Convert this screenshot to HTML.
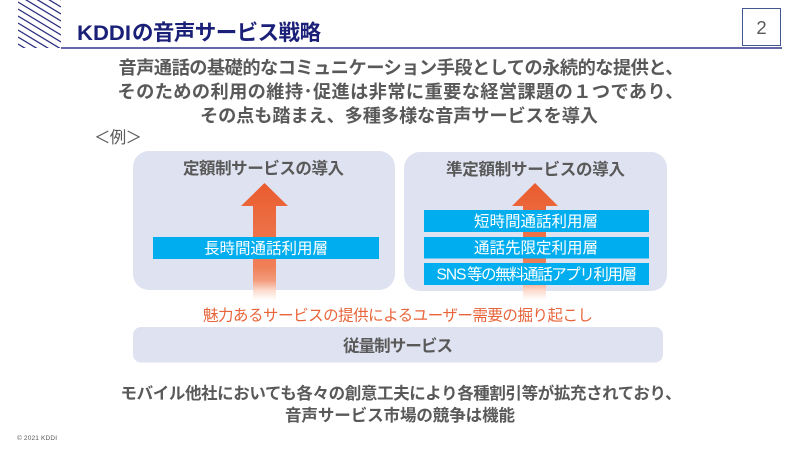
<!DOCTYPE html>
<html lang="ja"><head><meta charset="utf-8">
<style>
html,body{margin:0;padding:0;background:#fff}
svg{display:block;filter:blur(.3px)}
text{font-family:"Liberation Sans","Noto Sans CJK JP",sans-serif}
.b{font-weight:700;fill:#595959}
.w{fill:#fff;font-size:15.5px}
</style></head><body>
<svg width="800" height="450" viewBox="0 0 800 450" xmlns="http://www.w3.org/2000/svg">
<defs>
<clipPath id="h"><rect x="18" y="0" width="43" height="48"/></clipPath>
<linearGradient id="g1" gradientUnits="userSpaceOnUse" x1="0" y1="183" x2="0" y2="300">
<stop offset="0" stop-color="#e95c2f"/><stop offset=".72" stop-color="#f08058"/><stop offset=".83" stop-color="#f39a7a"/><stop offset=".92" stop-color="#fbdccf"/><stop offset="1" stop-color="#fff"/>
</linearGradient>
</defs>
<g clip-path="url(#h)" stroke="#2b3080" stroke-width="1.3">
<path d="M18 -40L61 -14M18 -33L61 -7M18 -26L61 0M18 -19L61 7M18 -12L61 14M18 -5L61 21M18 2L61 28M18 9L61 35M18 16L61 42M18 23L61 49M18 30L61 56M18 37L61 63M18 44L61 70"/>
</g>
<rect x="61" y="47" width="721" height="2" fill="#6468a6"/>
<text x="77" y="40" font-size="21" font-weight="700" fill="#1a1f78" textLength="54" lengthAdjust="spacingAndGlyphs">KDDI</text>
<text x="132" y="40" font-size="21.5" font-weight="700" fill="#1a1f78" textLength="189" lengthAdjust="spacing">の音声サービス戦略</text>
<rect x="742.5" y="8.5" width="38" height="37" fill="#fff" stroke="#41598f" stroke-width="1"/>
<text x="761.5" y="34" font-size="18.500" fill="#595959" text-anchor="middle">2</text>

<text class="b" x="118.500" y="74" font-size="18.200" textLength="565" lengthAdjust="spacing">音声通話の基礎的なコミュニケーション手段としての永続的な提供と、</text>
<text class="b" x="117.500" y="98" font-size="18.200" textLength="566" lengthAdjust="spacing">そのための利用の維持･促進は非常に重要な経営課題の１つであり、</text>
<text class="b" x="200" y="122" font-size="18.200" textLength="398" lengthAdjust="spacing">その点も踏まえ、多種多様な音声サービスを導入</text>
<text x="94" y="143" font-size="16.500" fill="#595959" textLength="48" lengthAdjust="spacing">＜例＞</text>

<rect x="133" y="151" width="262" height="139" rx="16" fill="#dfe2f0"/>
<rect x="404" y="152" width="263" height="139" rx="16" fill="#dfe2f0"/>
<text class="b" x="183" y="174" font-size="16.500" textLength="161" lengthAdjust="spacing">定額制サービスの導入</text>
<text class="b" x="446" y="175" font-size="16.500" textLength="179" lengthAdjust="spacing">準定額制サービスの導入</text>

<path d="M264.500 183L288 206H276V300H253V206H241Z" fill="url(#g1)"/>
<path d="M535 183L558 206H546V300H523V206H512Z" fill="url(#g1)"/>

<rect x="153" y="237" width="226" height="22" fill="#00aeef"/>
<text class="w" x="204" y="253.500" textLength="124" lengthAdjust="spacing">長時間通話利用層</text>
<rect x="424" y="210" width="225" height="22" fill="#00aeef"/>
<text class="w" x="474" y="226.500" textLength="124" lengthAdjust="spacing">短時間通話利用層</text>
<rect x="424" y="237" width="225" height="21.500" fill="#00aeef"/>
<text class="w" x="474" y="253" textLength="124" lengthAdjust="spacing">通話先限定利用層</text>
<rect x="424" y="263" width="225" height="22" fill="#00aeef"/>
<text class="w" x="436.500" y="279.500" textLength="30" lengthAdjust="spacing">SNS</text>
<text class="w" x="467" y="279.500" textLength="170" lengthAdjust="spacing">等の無料通話アプリ利用層</text>

<text x="203" y="320.500" font-size="15.500" fill="#e8643a" textLength="390" lengthAdjust="spacing">魅力あるサービスの提供によるユーザー需要の掘り起こし</text>
<rect x="133" y="327" width="530" height="35.500" rx="8" fill="#dfe2f0"/>
<text class="b" x="343" y="351.500" font-size="16.500" textLength="110" lengthAdjust="spacing">従量制サービス</text>

<text class="b" x="120.500" y="399" font-size="16.500" textLength="561" lengthAdjust="spacing">モバイル他社においても各々の創意工夫により各種割引等が拡充されており、</text>
<text class="b" x="285" y="421" font-size="16.500" textLength="230" lengthAdjust="spacing">音声サービス市場の競争は機能</text>
<text x="17" y="440" font-size="6.500" fill="#595959" textLength="40" lengthAdjust="spacing">© 2021 KDDI</text>
</svg>
</body></html>
